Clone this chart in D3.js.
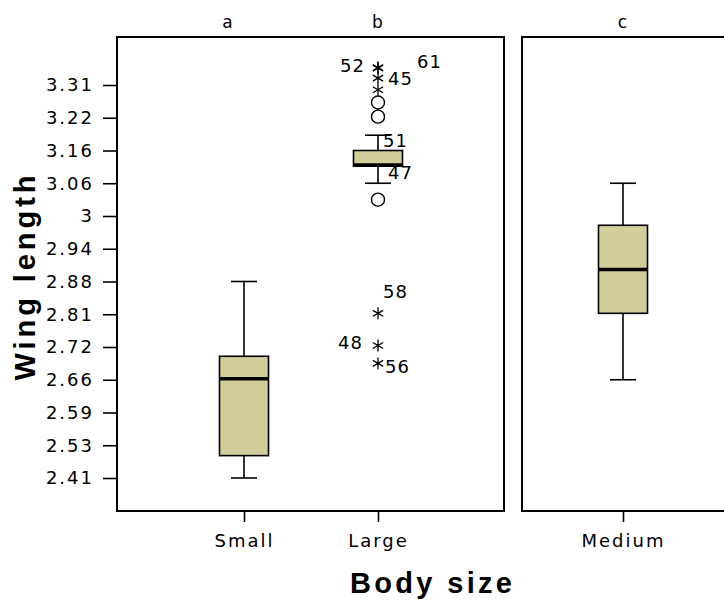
<!DOCTYPE html>
<html>
<head>
<meta charset="utf-8">
<script src="https://cdn.jsdelivr.net/npm/d3@7"></script>
<style>
  html, body { margin: 0; padding: 0; background: #fff; }
  svg { display: block; font-family: "Liberation Sans", Arial, sans-serif; }
</style>
</head>
<body>
<svg id="chart" width="724" height="601"></svg>
<script>
// Wing length by body size: box plots in two panels
const yTicks = [2.41, 2.53, 2.59, 2.66, 2.72, 2.81, 2.88, 2.94, 3, 3.06, 3.16, 3.22, 3.31];

const leftCategories = ["Small", "Large"];
const rightCategories = ["Medium"];
const groupLetters = { Small: "a", Large: "b", Medium: "c" };

// five-number summaries: [lower whisker, Q1, median, Q3, upper whisker]
const smallStats  = [2.41, 2.492, 2.662, 2.703, 2.88];
const largeStats  = [3.06, 3.112, 3.116, 3.16, 3.188];
const mediumStats = [2.66, 2.812, 2.902, 2.983, 3.06];

// mild outliers (circles) and extreme values (stars) for the Large group
const largeCircles = [3.03, 3.223, 3.262];
const largeStarIds    = [52, 61, 45, null, 58, 48, 56];
const largeStarValues = [3.358, 3.356, 3.329, 3.297, 2.812, 2.724, 2.69];
// case numbers printed at the whisker ends
const whiskerLabelIds    = [51, 47];
const whiskerLabelValues = [3.188, 3.06];

const svg = d3.select("#chart");
const boxFill = "#d2ce9b";
const smallFont = "'DejaVu Sans', sans-serif";

const panelTop = 37, panelBottom = 511;
const leftPanel = { x0: 117, x1: 504 };
const rightPanel = { x0: 522, x1: 740 };

// evenly spaced tick rows carry the listed values
const yTop = 85, yBottom = 478;
const step = (yBottom - yTop) / (yTicks.length - 1);
const y = d3.scaleLinear()
  .domain(yTicks)
  .range(yTicks.map((d, i) => yBottom - i * step));

const xLeft = d3.scalePoint()
  .domain(leftCategories)
  .range([leftPanel.x0 + 127, leftPanel.x0 + 261]);
const xRight = d3.scalePoint()
  .domain(rightCategories)
  .range([rightPanel.x0 + 101, rightPanel.x0 + 101]);

// panel frames
[leftPanel, rightPanel].forEach(p => {
  svg.append("rect")
    .attr("x", p.x0).attr("y", panelTop)
    .attr("width", p.x1 - p.x0).attr("height", panelBottom - panelTop)
    .attr("fill", "none").attr("stroke", "#000").attr("stroke-width", 2);
});

// y axis
const yAxis = svg.append("g")
  .attr("transform", `translate(${leftPanel.x0},0)`)
  .call(d3.axisLeft(y).tickValues(yTicks).tickSize(14).tickPadding(9)
    .tickFormat(d => String(d)));
yAxis.select(".domain").remove();
yAxis.selectAll(".tick line").attr("stroke", "#000").attr("stroke-width", 1.6);
yAxis.selectAll(".tick text")
  .attr("fill", "#000")
  .attr("letter-spacing", 2)
  .attr("font-family", smallFont)
  .style("font-size", "18px");

// x axes, with the group letters above each frame
const letterShift = { Small: -17, Large: -1, Medium: -1 };
function drawXAxis(scale) {
  const g = svg.append("g")
    .attr("transform", `translate(0,${panelBottom})`)
    .call(d3.axisBottom(scale).tickSize(11).tickPadding(12));
  g.select(".domain").remove();
  g.selectAll(".tick line").attr("stroke", "#000").attr("stroke-width", 1.6);
  g.selectAll(".tick text")
    .attr("fill", "#000")
    .attr("font-family", smallFont)
    .attr("letter-spacing", 2)
    .style("font-size", "18px");
  g.selectAll(".tick").append("text")
    .attr("class", "letter")
    .attr("y", -(panelBottom - 28))
    .attr("x", d => letterShift[d])
    .attr("fill", "#000")
    .attr("text-anchor", "middle")
    .attr("font-family", smallFont)
    .style("font-size", "17px")
    .text(d => groupLetters[d]);
}
drawXAxis(xLeft);
drawXAxis(xRight);

// box plots
function drawBox(cx, s) {
  const [lo, q1, med, q3, hi] = s;
  const g = svg.append("g");
  const bw = 49, cw = 26;
  g.append("line").attr("x1", cx).attr("x2", cx).attr("y1", y(hi)).attr("y2", y(q3))
    .attr("stroke", "#000").attr("stroke-width", 1.6);
  g.append("line").attr("x1", cx).attr("x2", cx).attr("y1", y(q1)).attr("y2", y(lo))
    .attr("stroke", "#000").attr("stroke-width", 1.6);
  g.append("line").attr("x1", cx - cw / 2).attr("x2", cx + cw / 2).attr("y1", y(hi)).attr("y2", y(hi))
    .attr("stroke", "#000").attr("stroke-width", 1.6);
  g.append("line").attr("x1", cx - cw / 2).attr("x2", cx + cw / 2).attr("y1", y(lo)).attr("y2", y(lo))
    .attr("stroke", "#000").attr("stroke-width", 1.6);
  g.append("rect").attr("x", cx - bw / 2).attr("y", y(q3))
    .attr("width", bw).attr("height", y(q1) - y(q3))
    .attr("fill", boxFill).attr("stroke", "#000").attr("stroke-width", 1.6);
  g.append("line").attr("x1", cx - bw / 2).attr("x2", cx + bw / 2).attr("y1", y(med)).attr("y2", y(med))
    .attr("stroke", "#000").attr("stroke-width", 3.5);
}
drawBox(xLeft("Small"), smallStats);
drawBox(xLeft("Large"), largeStats);
drawBox(xRight("Medium"), mediumStats);

// outliers for the Large group
const cxL = xLeft("Large");
svg.append("g").selectAll("circle")
  .data(largeCircles).join("circle")
  .attr("cx", cxL).attr("cy", d => y(d)).attr("r", 6.5)
  .attr("fill", "#fff").attr("stroke", "#000").attr("stroke-width", 1.4);

const star = d3.symbol().type(d3.symbolAsterisk).size(100);
svg.append("g").selectAll("path")
  .data(largeStarValues).join("path")
  .attr("d", star)
  .attr("transform", d => `translate(${cxL},${y(d)})`)
  .attr("fill", "none").attr("stroke", "#000").attr("stroke-width", 1.3);

// case-number labels, placed beside their marks
const labelOffsets = {
  52: [-13, 4, "end"], 61: [39, 0, "start"], 45: [10, 7, "start"],
  58: [5, -15, "start"], 48: [-15, 3, "end"], 56: [7, 10, "start"],
  51: [5, 12, "start"], 47: [10, -4, "start"]
};
const labelData = largeStarIds.map((id, i) => ({ id, v: largeStarValues[i] }))
  .concat(whiskerLabelIds.map((id, i) => ({ id, v: whiskerLabelValues[i] })))
  .filter(d => d.id !== null);
svg.append("g").selectAll("text")
  .data(labelData).join("text")
  .attr("x", d => cxL + labelOffsets[d.id][0])
  .attr("y", d => y(d.v) + labelOffsets[d.id][1])
  .attr("text-anchor", d => labelOffsets[d.id][2])
  .attr("fill", "#000")
  .attr("font-family", smallFont)
  .attr("letter-spacing", 1)
  .style("font-size", "18px")
  .text(d => d.id);

// axis titles
svg.append("text")
  .attr("transform", `translate(35,278) rotate(-90)`)
  .attr("text-anchor", "middle")
  .attr("font-weight", "bold")
  .attr("fill", "#000")
  .style("font-size", "29px")
  .attr("textLength", 205).attr("lengthAdjust", "spacing")
  .text("Wing length");

svg.append("text")
  .attr("x", 431).attr("y", 593)
  .attr("text-anchor", "middle")
  .attr("font-weight", "bold")
  .attr("fill", "#000")
  .style("font-size", "29px")
  .attr("textLength", 162).attr("lengthAdjust", "spacing")
  .text("Body size");
</script>
</body>
</html>
